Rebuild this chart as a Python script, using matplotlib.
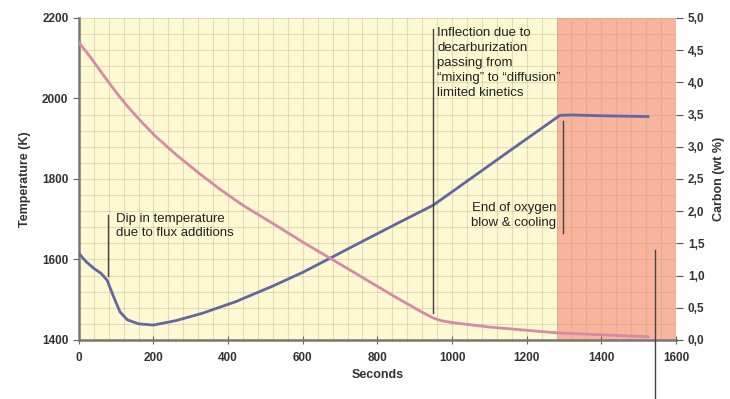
import numpy as np
import matplotlib
matplotlib.use('agg')
from matplotlib import pyplot as plt
from matplotlib.ticker import MultipleLocator, FuncFormatter

plt.rcParams['font.family'] = ['Liberation Sans', 'DejaVu Sans']

# temperature curve (left axis)
time_temp = [0, 20, 40, 60, 76, 92, 110, 130, 160, 200, 260, 330, 420, 520, 600,
             673, 760, 850, 950, 1050, 1150, 1289, 1320, 1400, 1525]
temp = [1615, 1594, 1578, 1565, 1548, 1510, 1470, 1450, 1440, 1437, 1448, 1466, 1495,
        1534, 1568, 1603, 1645, 1688, 1735, 1801, 1867, 1958, 1959, 1957, 1955]

# carbon curve (right axis)
time_c = [0, 30, 56, 80, 102, 130, 164, 204, 260, 324, 378, 440, 539, 600, 673, 760,
          850, 920, 950, 970, 1000, 1100, 1200, 1280, 1400, 1525]
carbon = [4.62, 4.40, 4.19, 4.00, 3.83, 3.63, 3.41, 3.17, 2.88, 2.58, 2.34, 2.09, 1.74,
          1.52, 1.27, 0.97, 0.66, 0.43, 0.34, 0.30, 0.27, 0.20, 0.15, 0.11, 0.08, 0.05]

blow_end = 1280

fig = plt.figure(figsize=(7.3, 3.99), dpi=100)
ax = fig.add_axes([0.108, 0.148, 0.818, 0.807])
ax2 = ax.twinx()

ax.set_facecolor('#fdf9d3')
ax.axvspan(blow_end, 1600, color='#f8b49c', zorder=1, lw=0)

ax.set_xlim(0, 1600)
ax.set_ylim(1400, 2200)
ax2.set_ylim(0, 5)

ax.xaxis.set_major_locator(MultipleLocator(200))
ax.xaxis.set_minor_locator(MultipleLocator(40))
ax.yaxis.set_major_locator(MultipleLocator(200))
ax.yaxis.set_minor_locator(MultipleLocator(40))
ax.grid(True, which='both', color='#b8a878', alpha=0.35, lw=0.8)

ax.plot(time_temp, temp, color='#6466a2', lw=2, zorder=3)
ax2.plot(time_c, carbon, color='#d58ba6', lw=2, zorder=3)

ax2.yaxis.set_major_locator(MultipleLocator(0.5))
ax2.yaxis.set_major_formatter(FuncFormatter(lambda v, p: ('%.1f' % v).replace('.', ',')))

for a in (ax, ax2):
    for side in ('top', 'right', 'left', 'bottom'):
        a.spines[side].set_visible(False)
for side in ('left', 'bottom'):
    ax.spines[side].set_visible(True)
    ax.spines[side].set_color('#777777')
    ax.spines[side].set_linewidth(1.8)

ax.tick_params(axis='x', which='major', direction='inout', length=6, color='#666666',
               labelsize=8.5, pad=6)
ax.tick_params(axis='y', which='major', direction='out', length=4, color='#666666',
               labelsize=8.5)
ax.tick_params(which='minor', length=0)
ax2.tick_params(axis='y', direction='out', length=5, color='#555555', labelsize=8.5)
for lab in ax.get_xticklabels() + ax.get_yticklabels() + ax2.get_yticklabels():
    lab.set_fontweight('bold')
    lab.set_color('#333333')

ax.set_xlabel('Seconds', fontsize=9, fontweight='bold', color='#333333', labelpad=3)
ax.set_ylabel('Temperature (K)', fontsize=9, fontweight='bold', color='#333333', labelpad=8)
ax2.set_ylabel('Carbon (wt %)', fontsize=9, fontweight='bold', color='#333333', labelpad=6)

# annotations
tc = '#222222'
ax.plot([78, 78], [1711, 1559], color='#444444', lw=1, zorder=4)
ax.text(100, 1716, 'Dip in temperature\ndue to flux additions', fontsize=9.5,
        va='top', ha='left', color=tc, linespacing=1.3, zorder=5)

ax.plot([949, 949], [2173, 1467], color='#444444', lw=1, zorder=4)
ax.text(960, 2178, 'Inflection due to\ndecarburization\npassing from\n\u201cmixing\u201d to \u201cdiffusion\u201d\nlimited kinetics',
        fontsize=9.5, va='top', ha='left', color=tc, linespacing=1.35, zorder=5)

ax.plot([1298, 1298], [1944, 1666], color='#444444', lw=1, zorder=4)
ax.text(1279, 1742, 'End of oxygen\nblow & cooling', fontsize=9.5, va='top', ha='right',
        color=tc, linespacing=1.3, zorder=5)

ax.plot([1544, 1544], [1624, 1256], color='#444444', lw=1, zorder=4, clip_on=False)

fig.savefig('out.png', dpi=100, facecolor='white')
